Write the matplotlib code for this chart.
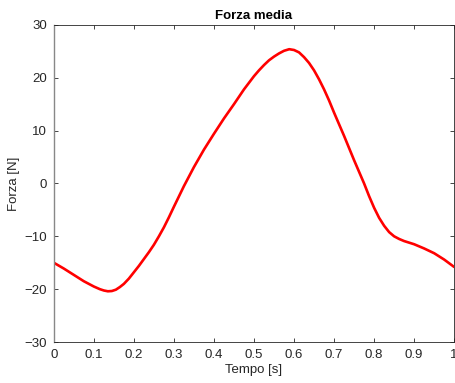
import numpy as np
import matplotlib
matplotlib.use('Agg')
import matplotlib.pyplot as plt

# values
tempo = [0.0, 0.025, 0.05, 0.075, 0.1, 0.115, 0.125, 0.135, 0.145, 0.155, 0.165, 0.175,
         0.1875, 0.2, 0.2125, 0.225, 0.2375, 0.25, 0.2625, 0.275, 0.2875,
         0.3, 0.325, 0.35, 0.375, 0.4, 0.425, 0.45, 0.475, 0.5, 0.5125, 0.525,
         0.5375, 0.55, 0.5625, 0.575, 0.588, 0.6, 0.6125, 0.625, 0.6375, 0.65, 0.6625,
         0.675, 0.6875, 0.7, 0.725, 0.75, 0.775, 0.7875, 0.8, 0.8125, 0.825, 0.8375,
         0.85, 0.8625, 0.875, 0.8875, 0.9, 0.925, 0.95, 0.975, 1.0]
forza = [-15.0, -16.1, -17.3, -18.5, -19.5, -20.0, -20.25, -20.4, -20.35, -20.1, -19.6, -19.0,
         -18.0, -16.8, -15.6, -14.3, -13.0, -11.6, -10.0, -8.3, -6.4,
         -4.4, -0.5, 3.1, 6.4, 9.4, 12.3, 15.0, 17.8, 20.3, 21.4, 22.4,
         23.3, 24.0, 24.6, 25.1, 25.4, 25.25, 24.8, 23.9, 22.8, 21.4, 19.7,
         17.8, 15.7, 13.4, 9.0, 4.4, 0.0, -2.4, -4.6, -6.5, -8.0, -9.2,
         -10.0, -10.5, -10.9, -11.2, -11.5, -12.3, -13.2, -14.4, -15.8]

plt.rcParams['font.family'] = ['Liberation Sans', 'DejaVu Sans']

fig = plt.figure(figsize=(4.56, 3.83), dpi=100)
ax = fig.add_axes([0.118, 0.107, 0.878, 0.828])

ax.plot(tempo, forza, color='#ff0000', linewidth=1.9,
        solid_joinstyle='round', solid_capstyle='round')

ax.set_xlim(0, 1)
ax.set_ylim(-30, 30)
ax.set_xticks(np.arange(0, 1.01, 0.1))
ax.set_xticklabels(['0', '0.1', '0.2', '0.3', '0.4', '0.5', '0.6', '0.7', '0.8', '0.9', '1'])
ax.set_yticks(np.arange(-30, 31, 10))

ax.tick_params(direction='in', length=3, width=0.6, colors='#262626', labelsize=9.5,
               top=True, right=True, pad=5)
for s in ax.spines.values():
    s.set_color('#262626')
    s.set_linewidth(0.6)
ax.spines['left'].set_color('#888888')
ax.spines['left'].set_linewidth(1.0)

ax.set_xlabel('Tempo [s]', fontsize=9.5, color='#262626', labelpad=2)
ax.set_ylabel('Forza [N]', fontsize=9.5, color='#262626', labelpad=3)
ax.set_title('Forza media', fontsize=9.5, fontweight='bold', pad=4)

fig.savefig('out.png', dpi=100)
